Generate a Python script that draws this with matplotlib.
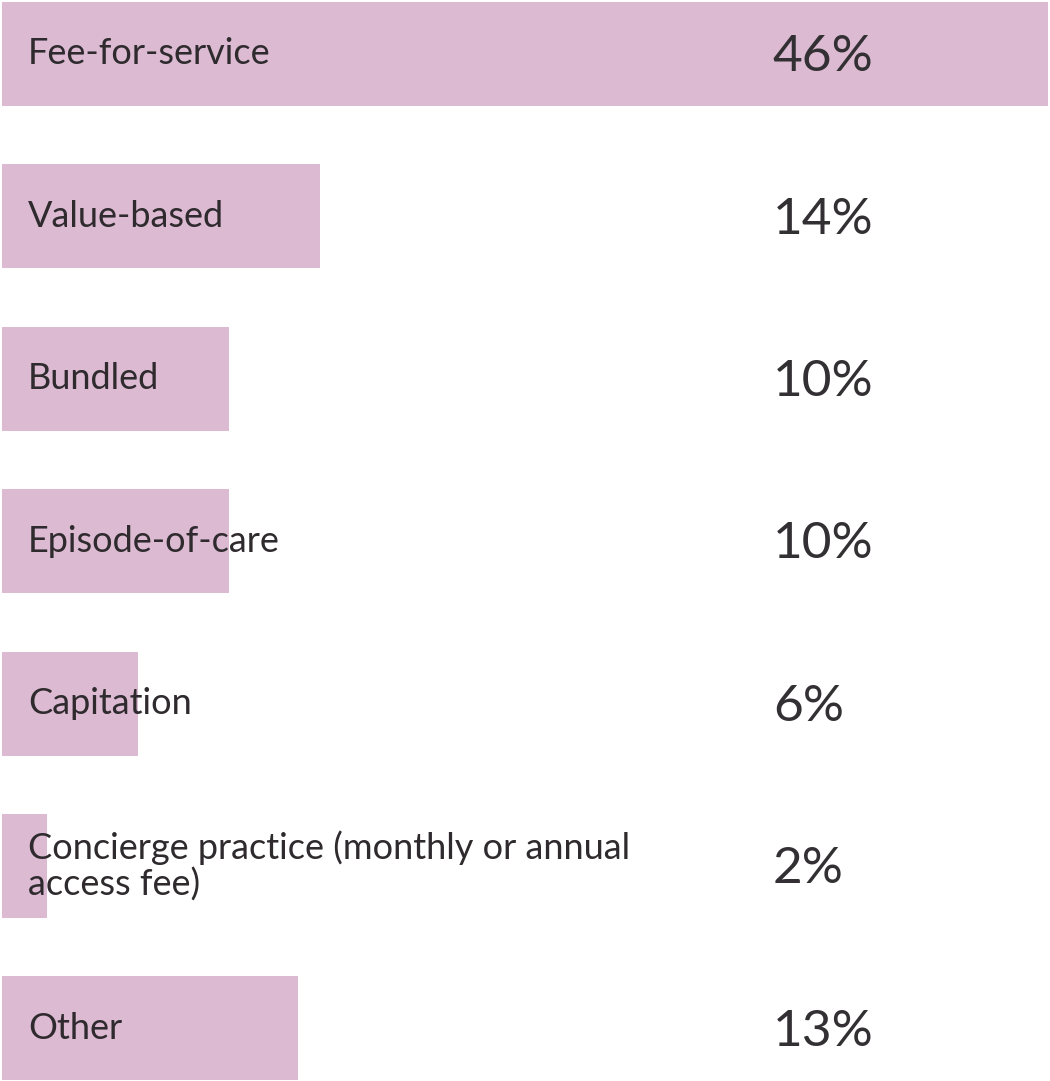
import matplotlib.pyplot as plt

categories = ['Fee-for-service', 'Value-based', 'Bundled', 'Episode-of-care',
              'Capitation', 'Concierge practice (monthly or annual\naccess fee)', 'Other']
values = [46, 14, 10, 10, 6, 2, 13]
value_labels = ['46%', '14%', '10%', '10%', '6%', '2%', '13%']

plt.rcParams['font.family'] = ['Lato', 'DejaVu Sans']

fig = plt.figure(figsize=(10.5, 10.81), dpi=100)
ax = fig.add_axes([0, 0, 1, 1])

ypos = list(range(len(values)))
ax.barh(ypos, values, height=0.64, color='#dbbad2', left=0)

for i, (cat, lab) in enumerate(zip(categories, value_labels)):
    ax.text(1.14, i, cat, ha='left', va='center', fontsize=26,
            color='#2e2a2d', linespacing=1.12)
    ax.text(33.9, i + 0.02, lab, ha='left', va='center', fontsize=37,
            color='#333033')

ax.set_xlim(-0.088, -0.088 + 1050 / 22.74)
ax.set_ylim(6.324, -0.3325)
ax.axis('off')

fig.savefig('out.png', dpi=100)
